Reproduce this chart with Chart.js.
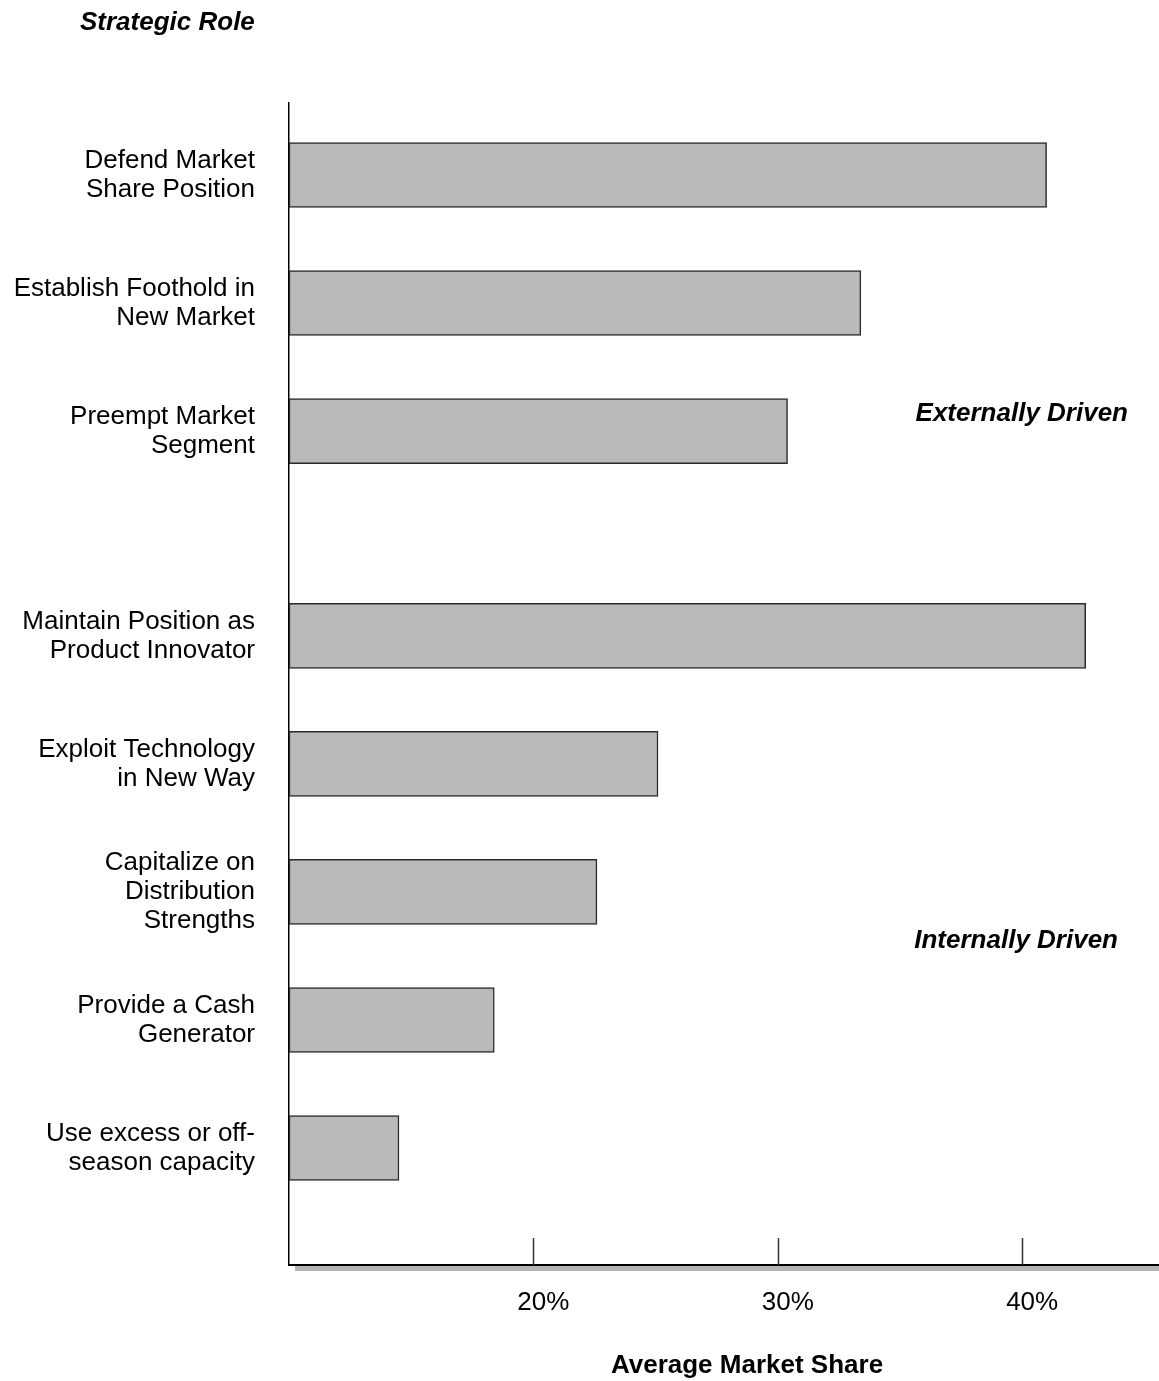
<!DOCTYPE html>
<html>
<head>
<meta charset="utf-8">
<script src="https://cdn.jsdelivr.net/npm/chart.js@4/dist/chart.umd.min.js"></script>
<style>
  html, body { margin: 0; padding: 0; background: #fff; }
  #wrap { width: 1159px; height: 1381px; }
</style>
</head>
<body>
<div id="wrap"><canvas id="roleChart" width="1159" height="1381"></canvas></div>
<script>
'use strict';

// categories (multi-line labels), top to bottom
const roles = [
  ['Defend Market', 'Share Position'],
  ['Establish Foothold in', 'New Market'],
  ['Preempt Market', 'Segment'],
  ['Maintain Position as', 'Product Innovator'],
  ['Exploit Technology', 'in New Way'],
  ['Capitalize on', 'Distribution', 'Strengths'],
  ['Provide a Cash', 'Generator'],
  ['Use excess or off-', 'season capacity']
];
// which group each role belongs to
const drivers = [
  'Externally Driven', 'Externally Driven', 'Externally Driven',
  'Internally Driven', 'Internally Driven', 'Internally Driven', 'Internally Driven', 'Internally Driven'
];
// average market share, %
const shares = [41.0, 33.4, 30.4, 42.6, 25.1, 22.6, 18.4, 14.5];
// x axis tick labels, %
const xTicks = [20, 30, 40];

const xMin = 10;
const xMax = 45.6;
const groupGap = 0.6;

// row positions: one unit per role, extra space where the group changes
let rowPos = [];
let shift = 0;
roles.forEach((r, i) => {
  if (i > 0 && drivers[i] !== drivers[i - 1]) shift += groupGap;
  rowPos.push(i + shift);
});

const fontFamily = '"Liberation Sans", Arial, sans-serif';
const labelFont = { family: fontFamily, size: 26, lineHeight: 1.12 };

// where the group names sit (px)
const groupLabelPos = {
  'Externally Driven': { x: 1128, y: 414 },
  'Internally Driven': { x: 1118, y: 941 }
};

const extrasPlugin = {
  id: 'extras',
  afterDraw(chart) {
    const ctx = chart.ctx;
    const area = chart.chartArea;
    const x = chart.scales.x;
    ctx.save();

    // shadow under x axis
    ctx.fillStyle = '#b4b4b4';
    ctx.fillRect(area.left + 6, area.bottom + 1, area.right - area.left - 6, 5);

    // inward tick marks
    ctx.strokeStyle = '#333';
    ctx.lineWidth = 1.5;
    xTicks.forEach(v => {
      const px = Math.round(x.getPixelForValue(v)) + 0.5;
      ctx.beginPath();
      ctx.moveTo(px, area.bottom);
      ctx.lineTo(px, area.bottom - 27);
      ctx.stroke();
    });

    ctx.fillStyle = '#000';
    ctx.textBaseline = 'middle';

    // title of the category axis
    ctx.font = 'italic bold 26px ' + fontFamily;
    ctx.textAlign = 'left';
    ctx.fillText('Strategic Role', 80, 23);

    // group names
    ctx.textAlign = 'right';
    [...new Set(drivers)].forEach(g => {
      const p = groupLabelPos[g];
      ctx.fillText(g, p.x, p.y);
    });

    // value axis title
    ctx.font = 'bold 26px ' + fontFamily;
    ctx.textAlign = 'center';
    ctx.fillText('Average Market Share', (area.left + area.right) / 2 + 23, 1366);

    ctx.restore();
  }
};

const ctx = document.getElementById('roleChart').getContext('2d');
new Chart(ctx, {
  type: 'bar',
  data: {
    datasets: [{
      data: shares.map((v, i) => ({ x: v, y: rowPos[i] })),
      base: xMin,
      backgroundColor: '#bababa',
      borderColor: '#2a2a2a',
      borderWidth: 1.5,
      borderSkipped: false,
      barThickness: 65
    }]
  },
  options: {
    indexAxis: 'y',
    responsive: false,
    animation: false,
    layout: { padding: { top: 103, left: 0, right: 0, bottom: 0 } },
    plugins: {
      legend: { display: false },
      tooltip: { enabled: false }
    },
    scales: {
      x: {
        type: 'linear',
        position: 'bottom',
        min: xMin,
        max: xMax,
        afterBuildTicks: scale => { scale.ticks = xTicks.map(v => ({ value: v })); },
        afterFit: scale => { scale.height = 116; },
        grid: { display: false, drawTicks: false },
        border: { display: true, color: '#000', width: 2 },
        ticks: {
          color: '#000',
          font: labelFont,
          padding: 23,
          labelOffset: 10,
          maxRotation: 0,
          callback: v => v + '%'
        }
      },
      y: {
        type: 'linear',
        position: 'left',
        reverse: true,
        offset: false,
        min: -0.5625,
        max: rowPos[rowPos.length - 1] + 0.914,
        afterBuildTicks: scale => { scale.ticks = rowPos.map(v => ({ value: v })); },
        afterFit: scale => { scale.width = 289; },
        grid: { display: false, drawTicks: false },
        border: { display: true, color: '#000', width: 1.5 },
        ticks: {
          color: '#000',
          font: labelFont,
          padding: 34,
          autoSkip: false,
          callback: (v, i) => roles[i]
        }
      }
    }
  },
  plugins: [extrasPlugin]
});
</script>
</body>
</html>
